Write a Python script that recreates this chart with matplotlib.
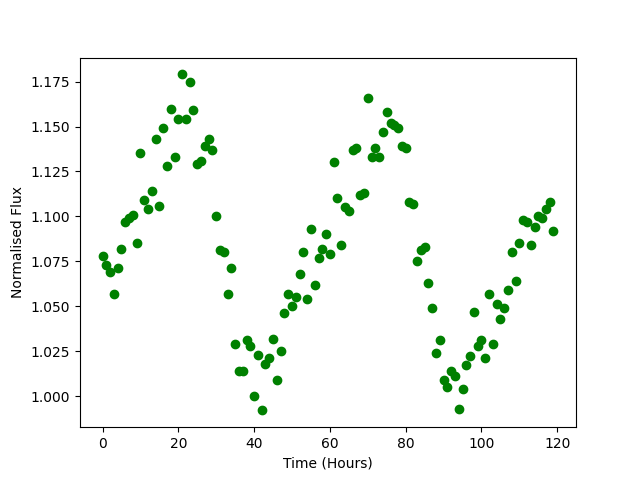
import matplotlib
matplotlib.use('Agg')
import matplotlib.pyplot as plt
import numpy as np

# 時間(時間単位)
time_hours = np.arange(120)

# 正規化フラックス
flux = [1.078, 1.073, 1.069, 1.057, 1.071, 1.082, 1.097, 1.099, 1.101, 1.085,
        1.135, 1.109, 1.104, 1.114, 1.143, 1.106, 1.149, 1.128, 1.160, 1.133,
        1.154, 1.179, 1.154, 1.175, 1.159, 1.129, 1.131, 1.139, 1.143, 1.137,
        1.100, 1.081, 1.080, 1.057, 1.071, 1.029, 1.014, 1.014, 1.031, 1.028,
        1.000, 1.023, 0.992, 1.018, 1.021, 1.032, 1.009, 1.025, 1.046, 1.057,
        1.050, 1.055, 1.068, 1.080, 1.054, 1.093, 1.062, 1.077, 1.082, 1.090,
        1.079, 1.130, 1.110, 1.084, 1.105, 1.103, 1.137, 1.138, 1.112, 1.113,
        1.166, 1.133, 1.138, 1.133, 1.147, 1.158, 1.152, 1.151, 1.149, 1.139,
        1.138, 1.108, 1.107, 1.075, 1.081, 1.083, 1.063, 1.049, 1.024, 1.031,
        1.009, 1.005, 1.014, 1.011, 0.993, 1.004, 1.017, 1.022, 1.047, 1.028,
        1.031, 1.021, 1.057, 1.029, 1.051, 1.043, 1.049, 1.059, 1.080, 1.064,
        1.085, 1.098, 1.097, 1.084, 1.094, 1.100, 1.099, 1.104, 1.108, 1.092]

fig = plt.figure(figsize=(6.4, 4.8), dpi=100)
plt.plot(time_hours, flux, 'go')
plt.xlabel("Time (Hours)")
plt.ylabel("Normalised Flux")
fig.savefig("out.png")
